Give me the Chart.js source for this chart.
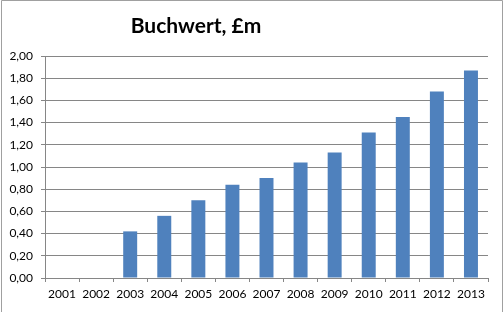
<!DOCTYPE html>
<html><head><meta charset="utf-8">
<script src="https://cdn.jsdelivr.net/npm/chart.js@4/dist/chart.umd.min.js"></script>
<style>html,body{margin:0;padding:0;background:#fff}#wrap{width:503px;height:312px;position:relative}</style>
</head><body><div id="wrap"><canvas id="c" width="503" height="312"></canvas></div>
<script>
const title = "Buchwert, £m";
const years = ["2001","2002","2003","2004","2005","2006","2007","2008","2009","2010","2011","2012","2013"];
const values = [null,null,0.42,0.56,0.70,0.84,0.90,1.04,1.13,1.31,1.45,1.68,1.87];
const yMin = 0, yMax = 2, yStep = 0.2;

const frame = {
  id:'frame',
  afterDraw(chart){
    const ctx = chart.ctx;
    ctx.save();
    ctx.strokeStyle = '#a0a0a0'; ctx.lineWidth = 1;
    ctx.beginPath();
    ctx.moveTo(1.5, 312); ctx.lineTo(1.5, 0.5); ctx.lineTo(502.5, 0.5); ctx.lineTo(502.5, 312);
    ctx.stroke();
    ctx.fillStyle = '#000';
    ctx.font = 'bold 21px Lato, sans-serif';
    ctx.textAlign = 'center'; ctx.textBaseline = 'alphabetic';
    ctx.fillText(title, 196, 33);
    ctx.restore();
  }
};

new Chart(document.getElementById('c'), {
  type: 'bar',
  data: { labels: years, datasets: [{ data: values, backgroundColor: '#4F81BD', barPercentage: 0.82, categoryPercentage: 0.5 }] },
  options: {
    responsive: false, animation: false,
    layout: { padding: { left: 0, right: 15, top: 56, bottom: 0 } },
    plugins: { legend: { display: false }, tooltip: { enabled: false } },
    scales: {
      x: {
        grid: { offset: true, drawOnChartArea: false, color: '#868686', tickLength: 4 },
        border: { color: '#868686' },
        ticks: { color: '#000', font: { family: 'Lato, sans-serif', size: 12 }, padding: 5, maxRotation: 0, autoSkip: false },
        afterFit(s){ s.height = 34; }
      },
      y: {
        min: yMin, max: yMax,
        grid: { color: '#868686', tickLength: 4 },
        border: { color: '#868686' },
        ticks: { stepSize: yStep, color: '#000', padding: 8, font: { family: 'Lato, sans-serif', size: 12 },
          callback: v => v.toFixed(2).replace('.', ',') },
        afterFit(s){ s.width = 45; }
      }
    }
  },
  plugins: [frame]
});
</script></body></html>
